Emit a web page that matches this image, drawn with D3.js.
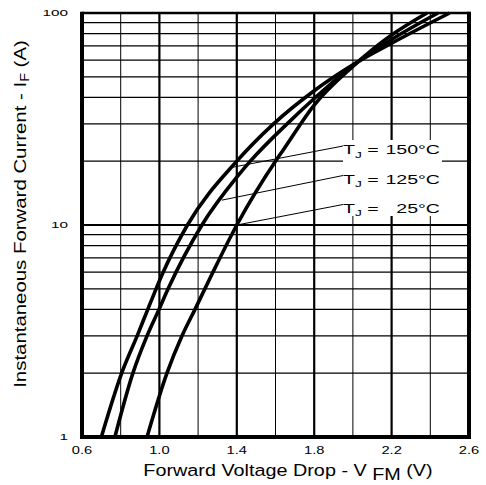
<!DOCTYPE html>
<html>
<head>
<meta charset="utf-8">
<script src="https://cdn.jsdelivr.net/npm/d3@7"></script>
<style>
  html, body { margin: 0; padding: 0; background: #fff; }
  svg { display: block; }
  text { font-family: "Liberation Sans", Arial, Helvetica, sans-serif; fill: #000; }
</style>
</head>
<body>
<svg id="chart" width="486" height="485"></svg>
<script>
// ---- data ----
const xTicks = [0.6, 1.0, 1.4, 1.8, 2.2, 2.6];
const xTickLabels = ["0.6", "1.0", "1.4", "1.8", "2.2", "2.6"];
const xMinorGrid = [0.8, 1.2, 1.6, 2.0, 2.4];
const xMajorGrid = [1.0, 1.4, 1.8, 2.2];
const yTicks = [1, 10, 100];
const yTickLabels = ["1", "10", "100"];
const yMinorGrid = [2, 3, 4, 5, 6, 7, 8, 9, 20, 30, 40, 50, 60, 70, 80, 90];
const yMajorGrid = [10];

const v150 = [0.70, 0.805, 0.885, 0.94, 0.983, 1.02, 1.145, 1.40, 1.59, 1.80, 2.00, 2.20, 2.50];
const i150 = [1, 2, 3, 4, 5, 6, 10, 20, 30, 43, 57, 72, 100];
const v125 = [0.77, 0.863, 0.936, 0.998, 1.045, 1.22, 1.40, 1.47, 1.66, 1.80, 2.00, 2.20, 2.44];
const i125 = [1, 2, 3, 4, 5, 10, 16.8, 20, 30, 39.5, 56.5, 75, 100];
const v25 = [0.936, 1.039, 1.117, 1.184, 1.277, 1.40, 1.60, 1.64, 1.80, 2.00, 2.20, 2.383];
const i25 = [1, 2, 3, 4, 6, 10, 20, 22.6, 36.8, 56, 78.7, 100];

const seriesNames = ["150°C", "125°C", "25°C"];
// leader line anchor points on the curves (V, I)
const anchorV = [1.375, 1.323, 1.40];
const anchorI = [18.7, 13.1, 10];

// ---- layout ----
const W = 486, H = 485;
const m = { left: 82, right: 17, top: 13, bottom: 48 };
const svg = d3.select("#chart");
const x = d3.scaleLinear().domain([0.6, 2.6]).range([m.left, W - m.right]);
const y = d3.scaleLog().domain([1, 100]).range([H - m.bottom, m.top]);

const g = svg.append("g");

// grid
g.selectAll("line.vmin").data(xMinorGrid).join("line")
  .attr("x1", d => x(d)).attr("x2", d => x(d))
  .attr("y1", y(1)).attr("y2", y(100))
  .attr("stroke", "#000").attr("stroke-width", 1);
g.selectAll("line.vmaj").data(xMajorGrid).join("line")
  .attr("x1", d => x(d)).attr("x2", d => x(d))
  .attr("y1", y(1)).attr("y2", y(100))
  .attr("stroke", "#000").attr("stroke-width", 2.2);
g.selectAll("line.hmin").data(yMinorGrid).join("line")
  .attr("x1", x(0.6)).attr("x2", x(2.6))
  .attr("y1", d => y(d)).attr("y2", d => y(d))
  .attr("stroke", "#000").attr("stroke-width", 1.2);
g.selectAll("line.hmaj").data(yMajorGrid).join("line")
  .attr("x1", x(0.6)).attr("x2", x(2.6))
  .attr("y1", d => y(d)).attr("y2", d => y(d))
  .attr("stroke", "#000").attr("stroke-width", 2.2);

// white panel behind the labels
g.append("rect").attr("x", 343).attr("y", 140).attr("width", 99).attr("height", 76).attr("fill", "#fff");

// leader lines
const labelY = [154, 183.5, 212.5];
const labelX = 343;
seriesNames.forEach((s, k) => {
  g.append("line")
    .attr("x1", labelX).attr("y1", labelY[k] - 8)
    .attr("x2", x(anchorV[k])).attr("y2", y(anchorI[k]))
    .attr("stroke", "#000").attr("stroke-width", 1);
});

// curves
const line = d3.line().x(d => x(d[0])).y(d => y(d[1])).curve(d3.curveMonotoneX);
const series = [d3.zip(v150, i150), d3.zip(v125, i125), d3.zip(v25, i25)];
g.selectAll("path.curve").data(series).join("path")
  .attr("d", line).attr("fill", "none")
  .attr("stroke", "#000").attr("stroke-width", 3.6).attr("stroke-linejoin", "round");

// frame
g.append("line").attr("x1", x(0.6)).attr("x2", x(2.6)).attr("y1", y(100)).attr("y2", y(100))
  .attr("stroke", "#000").attr("stroke-width", 2.6);
g.append("line").attr("x1", x(0.6) - 2).attr("x2", x(2.6) + 2).attr("y1", y(1)).attr("y2", y(1))
  .attr("stroke", "#000").attr("stroke-width", 3.8);
g.append("line").attr("x1", x(0.6)).attr("x2", x(0.6)).attr("y1", y(100) - 1.3).attr("y2", y(1) + 1.9)
  .attr("stroke", "#000").attr("stroke-width", 4);
g.append("line").attr("x1", x(2.6)).attr("x2", x(2.6)).attr("y1", y(100) - 1.3).attr("y2", y(1) + 1.9)
  .attr("stroke", "#000").attr("stroke-width", 4);

// stretched text helper
function stext(px, py, sx, rot) {
  return svg.append("g")
    .attr("transform", `translate(${px},${py})` + (rot ? ` rotate(${rot})` : "") + ` scale(${sx},1)`)
    .append("text");
}

// x tick labels
xTicks.forEach((v, k) => {
  stext(x(v), 454, 1.4).attr("text-anchor", "middle").attr("font-size", 10.5).text(xTickLabels[k]);
});
// y tick labels
yTicks.forEach((v, k) => {
  stext(68, y(v) + 3.2, 1.7).attr("text-anchor", "end").attr("font-size", 9).text(yTickLabels[k]);
});

// x title
const xt = stext(288, 476, 1.2).attr("text-anchor", "middle").attr("font-size", 16.5);
xt.append("tspan").text("Forward Voltage Drop - V");
xt.append("tspan").attr("dy", 3.5).text(" FM");
xt.append("tspan").attr("dy", -3.5).text(" (V)");

// y title
const yt = stext(26, 214, 1.2, -90).attr("text-anchor", "middle").attr("font-size", 17);
yt.append("tspan").text("Instantaneous Forward Current - I");
yt.append("tspan").attr("dy", 3).attr("font-size", 12).text("F");
yt.append("tspan").attr("dy", -3).text(" (A)");

// series labels
seriesNames.forEach((s, k) => {
  const gg = svg.append("g").attr("transform", `translate(${labelX},${labelY[k]}) scale(1.45,1)`);
  const t = gg.append("text").attr("font-size", 13.5);
  t.append("tspan").text("T");
  t.append("tspan").attr("dy", 3.5).attr("font-size", 9.5).text("J");
  t.append("tspan").attr("dy", -3.5).text(" =");
  gg.append("text").attr("font-size", 13.5).attr("text-anchor", "end").attr("x", (440 - labelX) / 1.45).text(s);
});
</script>
</body>
</html>
